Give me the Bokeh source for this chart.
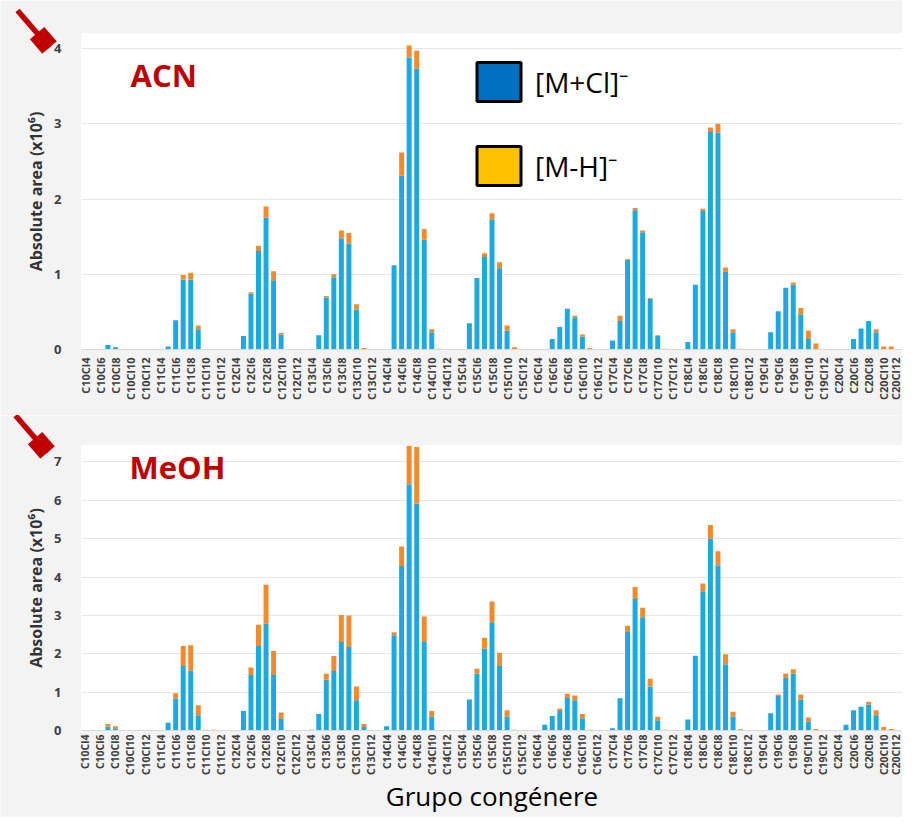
import math
from bokeh.plotting import figure
from bokeh.models import (ColumnDataSource, Range1d, FixedTicker, Label, Arrow, NormalHead,
                          BoxAnnotation, Legend, LegendItem)
from bokeh.layouts import column
from bokeh.embed import file_html
from bokeh.resources import INLINE

# ---------------- data ----------------
carbons = list(range(10, 21))
chlorines = list(range(4, 14))
categories = [f"C{c}Cl{cl}" for c in carbons for cl in chlorines][:109]

# ACN panel (x10^6), rows = C10..C20, columns = Cl4..Cl13
acn_mcl = [
    0, 0, 0, 0.06, 0.03, 0, 0, 0, 0, 0,
    0, 0.04, 0.39, 0.93, 0.93, 0.27, 0, 0, 0, 0,
    0, 0.18, 0.74, 1.31, 1.75, 0.92, 0.20, 0, 0, 0,
    0, 0.19, 0.69, 0.96, 1.48, 1.41, 0.53, 0, 0, 0,
    0, 1.12, 2.31, 3.88, 3.73, 1.46, 0.23, 0, 0, 0,
    0, 0.35, 0.95, 1.23, 1.73, 1.08, 0.25, 0, 0, 0,
    0, 0, 0.14, 0.30, 0.54, 0.43, 0.17, 0, 0, 0,
    0.12, 0.38, 1.19, 1.85, 1.56, 0.67, 0.18, 0, 0, 0,
    0.10, 0.86, 1.84, 2.89, 2.88, 1.03, 0.23, 0, 0, 0,
    0, 0.23, 0.51, 0.82, 0.86, 0.47, 0.14, 0, 0, 0,
    0, 0, 0.14, 0.28, 0.38, 0.23, 0, 0, 0,
]
acn_mh = [
    0, 0, 0, 0, 0, 0, 0, 0, 0, 0,
    0, 0, 0, 0.06, 0.09, 0.05, 0, 0, 0, 0,
    0, 0, 0.02, 0.07, 0.15, 0.12, 0.02, 0, 0, 0,
    0, 0, 0.02, 0.04, 0.10, 0.14, 0.07, 0.02, 0, 0,
    0, 0, 0.31, 0.16, 0.24, 0.14, 0.04, 0.01, 0, 0,
    0, 0, 0, 0.05, 0.08, 0.08, 0.07, 0.03, 0, 0,
    0, 0, 0, 0, 0, 0.02, 0.03, 0.02, 0, 0,
    0, 0.07, 0.01, 0.03, 0.02, 0.01, 0.01, 0.01, 0, 0,
    0, 0, 0.03, 0.06, 0.12, 0.06, 0.04, 0.01, 0, 0,
    0, 0, 0, 0, 0.03, 0.08, 0.11, 0.08, 0, 0,
    0, 0, 0, 0, 0, 0.04, 0.04, 0.04, 0,
]

# MeOH panel (x10^6)
meoh_mcl = [
    0, 0, 0, 0.10, 0.06, 0, 0, 0, 0, 0,
    0, 0.20, 0.83, 1.68, 1.56, 0.40, 0, 0, 0, 0,
    0, 0.51, 1.45, 2.20, 2.79, 1.45, 0.30, 0, 0, 0,
    0.02, 0.43, 1.32, 1.55, 2.31, 2.18, 0.79, 0.09, 0, 0,
    0.11, 2.48, 4.29, 6.42, 5.92, 2.31, 0.36, 0, 0, 0,
    0, 0.81, 1.48, 2.13, 2.82, 1.68, 0.36, 0, 0, 0,
    0, 0.15, 0.38, 0.51, 0.85, 0.79, 0.32, 0, 0, 0,
    0.06, 0.84, 2.59, 3.43, 2.95, 1.15, 0.27, 0, 0, 0,
    0.29, 1.95, 3.63, 5.00, 4.31, 1.73, 0.36, 0, 0, 0,
    0, 0.45, 0.90, 1.37, 1.48, 0.81, 0.23, 0, 0, 0,
    0, 0.15, 0.53, 0.62, 0.67, 0.40, 0, 0, 0,
]
meoh_mh = [
    0, 0, 0, 0.07, 0.05, 0, 0, 0, 0, 0,
    0, 0, 0.14, 0.52, 0.66, 0.26, 0.02, 0.02, 0, 0,
    0, 0, 0.19, 0.56, 1.01, 0.62, 0.17, 0, 0, 0,
    0, 0, 0.16, 0.39, 0.70, 0.82, 0.36, 0.08, 0, 0,
    0, 0.08, 0.51, 1.20, 1.47, 0.66, 0.15, 0, 0, 0,
    0, 0, 0.13, 0.29, 0.54, 0.35, 0.17, 0.02, 0, 0,
    0, 0, 0, 0.06, 0.11, 0.12, 0.11, 0.02, 0, 0,
    0, 0, 0.14, 0.31, 0.25, 0.20, 0.09, 0.02, 0, 0,
    0, 0, 0.20, 0.36, 0.36, 0.26, 0.13, 0.03, 0, 0,
    0, 0, 0.04, 0.11, 0.12, 0.13, 0.11, 0.04, 0, 0,
    0, 0, 0, 0, 0.08, 0.13, 0.09, 0.04, 0,
]

series_names = ["[M+Cl]⁻", "[M-H]⁻"]
acn_ticks = [0, 1, 2, 3, 4]
meoh_ticks = [0, 1, 2, 3, 4, 5, 6, 7]
y_title = "Absolute area (x10⁶)"
x_title = "Grupo congénere"

# ---------------- style ----------------
BAR_BLUE = "#1ba9e1"
BAR_ORANGE = "#f58a2c"
LEG_BLUE = "#0070c0"
LEG_YELLOW = "#ffc000"
GRAY_BG = "#f3f3f3"
DARK_RED = "#c00000"
FONT = "Open Sans"
PAGE_W = 902

idx = list(range(len(categories)))
label_ticks = [i for i in idx if i % 2 == 0]
overrides = {i: categories[i] for i in label_ticks}


def make_panel(mcl, mh, ticks, ymax, height, mb_left, mb_top, mb_bottom, xlab_standoff, xlab_size):
    p = figure(width=PAGE_W, height=height, x_range=Range1d(-0.5, len(categories) - 0.5),
               y_range=Range1d(0, ymax), output_backend="svg", toolbar_location=None,
               min_border_left=mb_left, min_border_right=0,
               min_border_top=mb_top, min_border_bottom=mb_bottom)
    p.border_fill_color = GRAY_BG
    p.background_fill_color = "white"
    p.outline_line_color = None

    src = ColumnDataSource(dict(idx=idx, cat=categories, mcl=mcl, mh=mh))
    p.vbar_stack(["mcl", "mh"], x="idx", width=0.66, color=[BAR_BLUE, BAR_ORANGE],
                 line_color=None, source=src)

    p.yaxis.ticker = FixedTicker(ticks=ticks)
    p.yaxis.major_label_text_font = FONT
    p.yaxis.major_label_text_font_size = "13px"
    p.yaxis.major_label_text_font_style = "bold"
    p.yaxis.major_label_text_color = "#404040"
    p.yaxis.axis_line_color = None
    p.yaxis.major_tick_line_color = None
    p.yaxis.minor_tick_line_color = None
    p.yaxis.major_label_standoff = 14
    p.yaxis.axis_label = y_title
    p.yaxis.axis_label_text_font = FONT
    p.yaxis.axis_label_text_font_size = "16px"
    p.yaxis.axis_label_text_font_style = "bold"
    p.yaxis.axis_label_text_color = "#333333"
    p.yaxis.axis_label_standoff = 4

    p.xaxis.ticker = FixedTicker(ticks=label_ticks)
    p.xaxis.major_label_overrides = overrides
    p.xaxis.major_label_orientation = math.pi / 2
    p.xaxis.major_label_text_font = FONT
    p.xaxis.major_label_text_font_size = xlab_size
    p.xaxis.major_label_text_font_style = "bold"
    p.xaxis.major_label_text_color = "#404040"
    p.xaxis.major_tick_line_color = None
    p.xaxis.minor_tick_line_color = None
    p.xaxis.major_tick_out = 0
    p.xaxis.major_tick_in = 0
    p.xaxis.minor_tick_out = 0
    p.xaxis.axis_line_color = "#d9d9d9"
    p.xaxis.major_label_standoff = xlab_standoff

    p.xgrid.grid_line_color = None
    p.ygrid.grid_line_color = "#e6e6e6"
    return p


def red_arrow(p, tail, tip, frame_left, frame_bottom):
    """Decorative red arrow (screen px relative to the frame)."""
    ln = math.hypot(tip[0] - tail[0], tip[1] - tail[1])
    xs, ys = tail[0] - frame_left, frame_bottom - tail[1]
    xe, ye = tip[0] - frame_left, frame_bottom - tip[1]
    # shaft
    p.add_layout(Arrow(x_start=xs, y_start=ys, x_end=xe, y_end=ye,
                       start_units="screen", end_units="screen",
                       line_color=DARK_RED, line_width=5.5,
                       end=NormalHead(size=ln + 4, fill_alpha=0, line_alpha=0)))
    # head
    p.add_layout(Arrow(x_start=xs, y_start=ys, x_end=xe, y_end=ye,
                       start_units="screen", end_units="screen",
                       line_color=DARK_RED, line_width=24,
                       end=NormalHead(size=19, fill_color=DARK_RED, line_color=DARK_RED)))


def white_box(p, left, top, bottom, frame_left, frame_bottom):
    p.add_layout(BoxAnnotation(left=left - frame_left, right=900,
                               top=frame_bottom - top, bottom=frame_bottom - bottom,
                               left_units="screen", right_units="screen",
                               top_units="screen", bottom_units="screen",
                               fill_color="white", fill_alpha=1, line_color=None,
                               level="image"))


def text_label(p, text, x, y, frame_left, frame_bottom, **kw):
    p.add_layout(Label(x=x - frame_left, y=frame_bottom - y, x_units="screen",
                       y_units="screen", text=text, text_font=FONT, **kw))


# ---------------- top panel: ACN ----------------
T_LEFT, T_TOP, T_BOTTOM, T_H = 79, 33, 349, 415
p1 = make_panel(acn_mcl, acn_mh, acn_ticks, 4.2, T_H, T_LEFT, T_TOP, T_H - T_BOTTOM, 8, "11px")
white_box(p1, 25, 33, 410, T_LEFT, T_BOTTOM)
text_label(p1, "ACN", 128, 95, T_LEFT, T_BOTTOM, text_font_size="31px",
           text_font_style="bold", text_color=DARK_RED)
red_arrow(p1, (15, 10), (47, 47), T_LEFT, T_BOTTOM)

nan = float("nan")
r_leg1 = p1.vbar(x=[nan], top=[nan], width=0.5, fill_color=LEG_BLUE, line_color="black", line_width=3)
r_leg2 = p1.vbar(x=[nan], top=[nan], width=0.5, fill_color=LEG_YELLOW, line_color="black", line_width=3)
legend = Legend(items=[LegendItem(label=series_names[0], renderers=[r_leg1]),
                       LegendItem(label=series_names[1], renderers=[r_leg2])],
                location=(390, 159), glyph_width=55, glyph_height=49, spacing=35,
                padding=0, margin=0, label_standoff=9,
                label_text_font=FONT, label_text_font_size="28px", label_text_color="black",
                background_fill_alpha=0, border_line_color=None)
p1.add_layout(legend)

# ---------------- bottom panel: MeOH ----------------
OFF = T_H          # page y where the bottom panel starts
B_H = 817 - OFF
B_LEFT, B_TOP, B_BOTTOM = 81, 445 - OFF, 735 - OFF
p2 = make_panel(meoh_mcl, meoh_mh, meoh_ticks, 7.43, B_H, B_LEFT, B_TOP, B_H - B_BOTTOM, 4, "10.5px")
white_box(p2, 25, 445 - OFF, 795 - OFF, B_LEFT, B_BOTTOM)
text_label(p2, "MeOH", 129, 492 - OFF, B_LEFT, B_BOTTOM, text_font_size="31px",
           text_font_style="bold", text_color=DARK_RED)
red_arrow(p2, (15, 420 - OFF), (47, 457 - OFF), B_LEFT, B_BOTTOM)
p2.xaxis.axis_label = x_title
p2.xaxis.axis_label_text_font = FONT
p2.xaxis.axis_label_text_font_size = "26px"
p2.xaxis.axis_label_text_font_style = "normal"
p2.xaxis.axis_label_text_color = "black"
p2.xaxis.axis_label_standoff = 0

layout = column(p1, p2, spacing=0)
open("out.html", "w").write(file_html(layout, INLINE))
